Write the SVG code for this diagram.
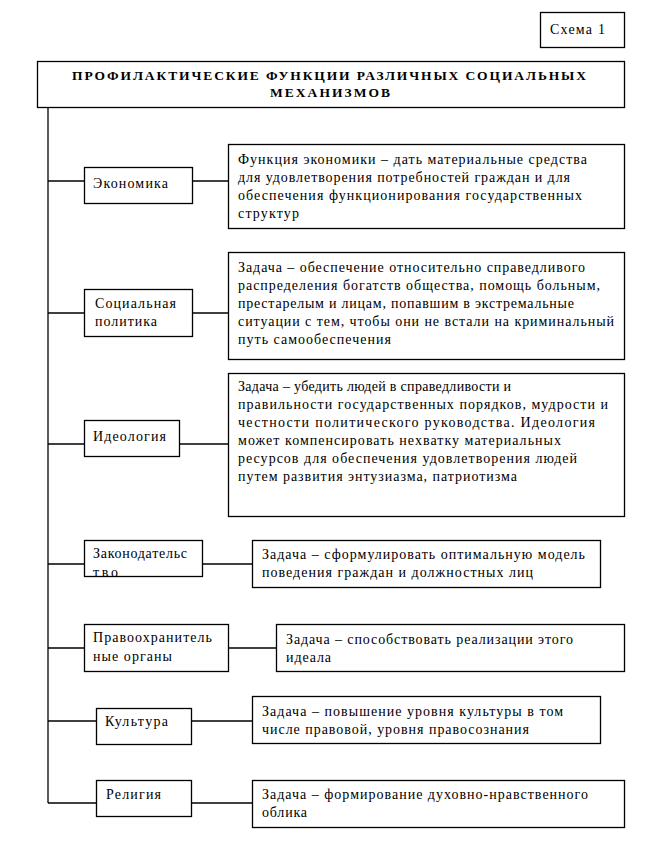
<svg xmlns="http://www.w3.org/2000/svg" width="649" height="853" viewBox="0 0 649 853" font-family="'Liberation Serif', 'DejaVu Serif', 'Times New Roman', serif">
<style>
rect{fill:#fff;stroke:#000;stroke-width:1.3}
line{stroke:#000;stroke-width:1.3;fill:none}
text{font-family:'Liberation Serif','DejaVu Serif','Times New Roman',serif;font-size:14px;fill:#000}
.t{font-weight:bold;text-anchor:middle;font-size:13.5px}
</style>
<rect width="649" height="853" style="stroke:none"/>
<g id="connectors">
<line x1="48" y1="108" x2="48" y2="803"/>
<line x1="48" y1="181" x2="84" y2="181"/><line x1="192" y1="181" x2="229" y2="181"/>
<line x1="48" y1="313" x2="84" y2="313"/><line x1="192" y1="313" x2="229" y2="313"/>
<line x1="48" y1="444" x2="84" y2="444"/><line x1="179" y1="444" x2="229" y2="444"/>
<line x1="48" y1="564" x2="84" y2="564"/><line x1="203" y1="564" x2="252" y2="564"/>
<line x1="48" y1="648" x2="84" y2="648"/><line x1="229" y1="648" x2="277" y2="648"/>
<line x1="48" y1="721" x2="97" y2="721"/><line x1="192" y1="721" x2="252" y2="721"/>
<line x1="48" y1="803" x2="97" y2="803"/><line x1="192" y1="803" x2="252" y2="803"/>
</g>
<g id="scheme"><rect x="540.5" y="12.5" width="84" height="35"/><text x="550" y="34" textLength="55" lengthAdjust="spacing">Схема 1</text></g>
<g id="title"><rect x="37.5" y="61.5" width="587" height="46"/>
<text class="t" x="329" y="80" textLength="514" lengthAdjust="spacing">ПРОФИЛАКТИЧЕСКИЕ ФУНКЦИИ РАЗЛИЧНЫХ СОЦИАЛЬНЫХ</text>
<text class="t" x="330" y="97" textLength="120" lengthAdjust="spacing">МЕХАНИЗМОВ</text></g>
<g id="economy"><rect x="84.5" y="167.5" width="108" height="36"/><text x="93" y="188" textLength="75" lengthAdjust="spacing">Экономика</text></g>
<g id="economy-task"><rect x="228.5" y="144.5" width="396" height="84"/>
<text x="238" y="164" textLength="349" lengthAdjust="spacing">Функция экономики – дать материальные средства</text>
<text x="238" y="182" textLength="332" lengthAdjust="spacing">для удовлетворения потребностей граждан и для</text>
<text x="238" y="200" textLength="344" lengthAdjust="spacing">обеспечения функционирования государственных</text>
<text x="238" y="218" textLength="61" lengthAdjust="spacing">структур</text></g>
<g id="social"><rect x="84.5" y="289.5" width="108" height="47"/><text x="95" y="308" textLength="81" lengthAdjust="spacing">Социальная</text><text x="95" y="326" textLength="62" lengthAdjust="spacing">политика</text></g>
<g id="social-task"><rect x="228.5" y="252.5" width="396" height="107"/>
<text x="238" y="272" textLength="347" lengthAdjust="spacing">Задача – обеспечение относительно справедливого</text>
<text x="238" y="290" textLength="362" lengthAdjust="spacing">распределения богатств общества, помощь больным,</text>
<text x="238" y="308" textLength="336" lengthAdjust="spacing">престарелым и лицам, попавшим в экстремальные</text>
<text x="238" y="326" textLength="376" lengthAdjust="spacing">ситуации с тем, чтобы они не встали на криминальный</text>
<text x="238" y="344" textLength="153" lengthAdjust="spacing">путь самообеспечения</text></g>
<g id="ideology"><rect x="84.5" y="420.5" width="95" height="36"/><text x="93" y="441" textLength="73" lengthAdjust="spacing">Идеология</text></g>
<g id="ideology-task"><rect x="228.5" y="373.5" width="396" height="143"/>
<text x="238" y="391" textLength="273" lengthAdjust="spacing">Задача – убедить людей в справедливости и</text>
<text x="238" y="409" textLength="370" lengthAdjust="spacing">правильности государственных порядков, мудрости и</text>
<text x="238" y="427" textLength="357" lengthAdjust="spacing">честности политического руководства. Идеология</text>
<text x="238" y="445" textLength="323" lengthAdjust="spacing">может компенсировать нехватку материальных</text>
<text x="238" y="463" textLength="339" lengthAdjust="spacing">ресурсов для обеспечения удовлетворения людей</text>
<text x="238" y="481" textLength="279" lengthAdjust="spacing">путем развития энтузиазма, патриотизма</text></g>
<g id="law"><rect x="84.5" y="540.5" width="118" height="36"/><text x="93" y="558" textLength="94" lengthAdjust="spacing">Законодательс</text><text x="93" y="577" textLength="25" lengthAdjust="spacing">тво</text></g>
<g id="law-task"><rect x="252.5" y="540.5" width="348" height="47"/>
<text x="262" y="559" textLength="323" lengthAdjust="spacing">Задача – сформулировать оптимальную модель</text>
<text x="262" y="577" textLength="271" lengthAdjust="spacing">поведения граждан и должностных лиц</text></g>
<g id="police"><rect x="84.5" y="624.5" width="144" height="47"/><text x="93" y="642" textLength="119" lengthAdjust="spacing">Правоохранитель</text><text x="93" y="661" textLength="79" lengthAdjust="spacing">ные органы</text></g>
<g id="police-task"><rect x="276.5" y="624.5" width="348" height="47"/>
<text x="286" y="644" textLength="287" lengthAdjust="spacing">Задача – способствовать реализации этого</text>
<text x="286" y="662" textLength="45" lengthAdjust="spacing">идеала</text></g>
<g id="culture"><rect x="96.5" y="708.5" width="95" height="36"/><text x="105" y="726" textLength="63" lengthAdjust="spacing">Культура</text></g>
<g id="culture-task"><rect x="252.5" y="696.5" width="348" height="47"/>
<text x="262" y="716" textLength="301" lengthAdjust="spacing">Задача – повышение уровня культуры в том</text>
<text x="262" y="734" textLength="267" lengthAdjust="spacing">числе правовой, уровня правосознания</text></g>
<g id="religion"><rect x="96.5" y="780.5" width="95" height="36"/><text x="106" y="799" textLength="55" lengthAdjust="spacing">Религия</text></g>
<g id="religion-task"><rect x="252.5" y="780.5" width="372" height="47"/>
<text x="262" y="799" textLength="326" lengthAdjust="spacing">Задача – формирование духовно-нравственного</text>
<text x="262" y="817" textLength="45" lengthAdjust="spacing">облика</text></g>
</svg>
